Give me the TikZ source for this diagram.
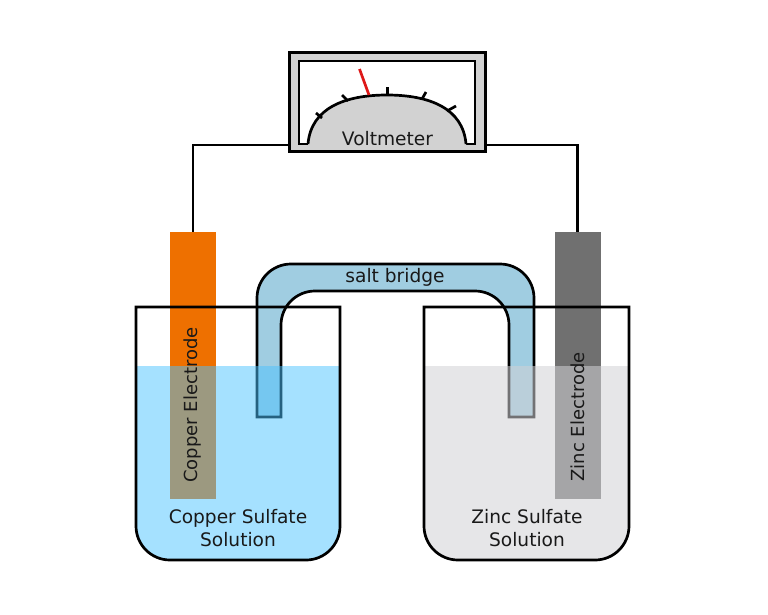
\documentclass[tikz,border=0pt]{standalone}
\usepackage{fontspec}
\setmainfont{DejaVu Sans}
\definecolor{copper}{RGB}{238,112,0}
\definecolor{zinc}{RGB}{112,112,112}
\definecolor{bridgeblue}{RGB}{160,205,225}
\definecolor{cusolution}{RGB}{75,195,255}
\definecolor{znsolution}{RGB}{209,209,213}
\definecolor{meter}{RGB}{210,210,210}
\definecolor{needle}{RGB}{222,24,24}
\tikzset{
  electrode/.style={minimum width=46pt,minimum height=267pt,inner sep=0pt},
  wire/.style={line width=2.7pt},
  label/.style={font=\fontsize{18.6}{23}\selectfont,align=center,text=black!90},
  sidelabel/.style={font=\fontsize{18}{23}\selectfont,rotate=90,text=black!90},
}
\begin{document}
\begin{tikzpicture}[x=1pt,y=-1pt]
  \useasboundingbox (0,0) rectangle (768,614);
  % electrodes
  \node[electrode,fill=copper] (cu) at (193,365.5) {};
  \node[electrode,fill=zinc] (zn) at (577.5,365.5) {};
  % salt bridge
  \draw[wire,fill=bridgeblue] (257,417) -- (257,298) arc[start angle=180,end angle=270,radius=34] -- (500,264)
    arc[start angle=270,end angle=360,radius=34] -- (534,417) -- (509,417) -- (509,325)
    arc[start angle=0,end angle=-90,radius=34] -- (315,291)
    arc[start angle=270,end angle=180,radius=34] -- (281,417) -- cycle;
  % solutions
  \fill[cusolution,opacity=.5] (136,366) -- (340,366) -- (340,526) arc[start angle=0,end angle=90,radius=34]
    -- (170,560) arc[start angle=90,end angle=180,radius=34] -- cycle;
  \fill[znsolution,opacity=.55] (424,366) -- (629,366) -- (629,526) arc[start angle=0,end angle=90,radius=34]
    -- (458,560) arc[start angle=90,end angle=180,radius=34] -- cycle;
  % beakers
  \draw[wire] (136,307) -- (340,307) -- (340,526) arc[start angle=0,end angle=90,radius=34]
    -- (170,560) arc[start angle=90,end angle=180,radius=34] -- cycle;
  \draw[wire] (424,307) -- (629,307) -- (629,526) arc[start angle=0,end angle=90,radius=34]
    -- (458,560) arc[start angle=90,end angle=180,radius=34] -- cycle;
  % voltmeter
  \node[draw,wire,fill=meter,minimum width=196pt,minimum height=99pt,inner sep=0pt] (vm) at (387.5,102) {};
  \draw[wire,fill=white] (299,61) rectangle (475,144);
  \fill[meter] (308,145.5) -- (308,144) .. controls (311,108) and (345,95) .. (387,95)
    .. controls (429,95) and (463,108) .. (466,144) -- (466,145.5) -- cycle;
  \draw[wire] (308,144) .. controls (311,108) and (345,95) .. (387,95)
    .. controls (429,95) and (463,108) .. (466,144);
  \foreach \xa/\ya/\xb/\yb in {316/113/322/118,342/95/348/101,387.5/87/387.5/95,426/92/422/99,456/106/447/111}{
    \draw[wire] (\xa,\ya) -- (\xb,\yb);
  }
  \draw[needle,wire] (359.5,69) -- (369,95);
  % wires
  \coordinate (vml) at (289,145);
  \coordinate (vmr) at (486,145);
  \draw[wire] (cu.north) |- (vml);
  \draw[wire] (zn.north) |- (vmr);
  % labels
  \node[label] (vmtext) at (387.5,139) {Voltmeter};
  \node[label] (bridgetext) at (395,277.5) {salt bridge};
  \node[sidelabel] (cutext) at (192.5,405) {Copper Electrode};
  \node[sidelabel] (zntext) at (578,417) {Zinc Electrode};
  \node[label] (cusol) at (238,528) {Copper Sulfate\\Solution};
  \node[label] (znsol) at (527,528) {Zinc Sulfate\\Solution};
\end{tikzpicture}
\end{document}
